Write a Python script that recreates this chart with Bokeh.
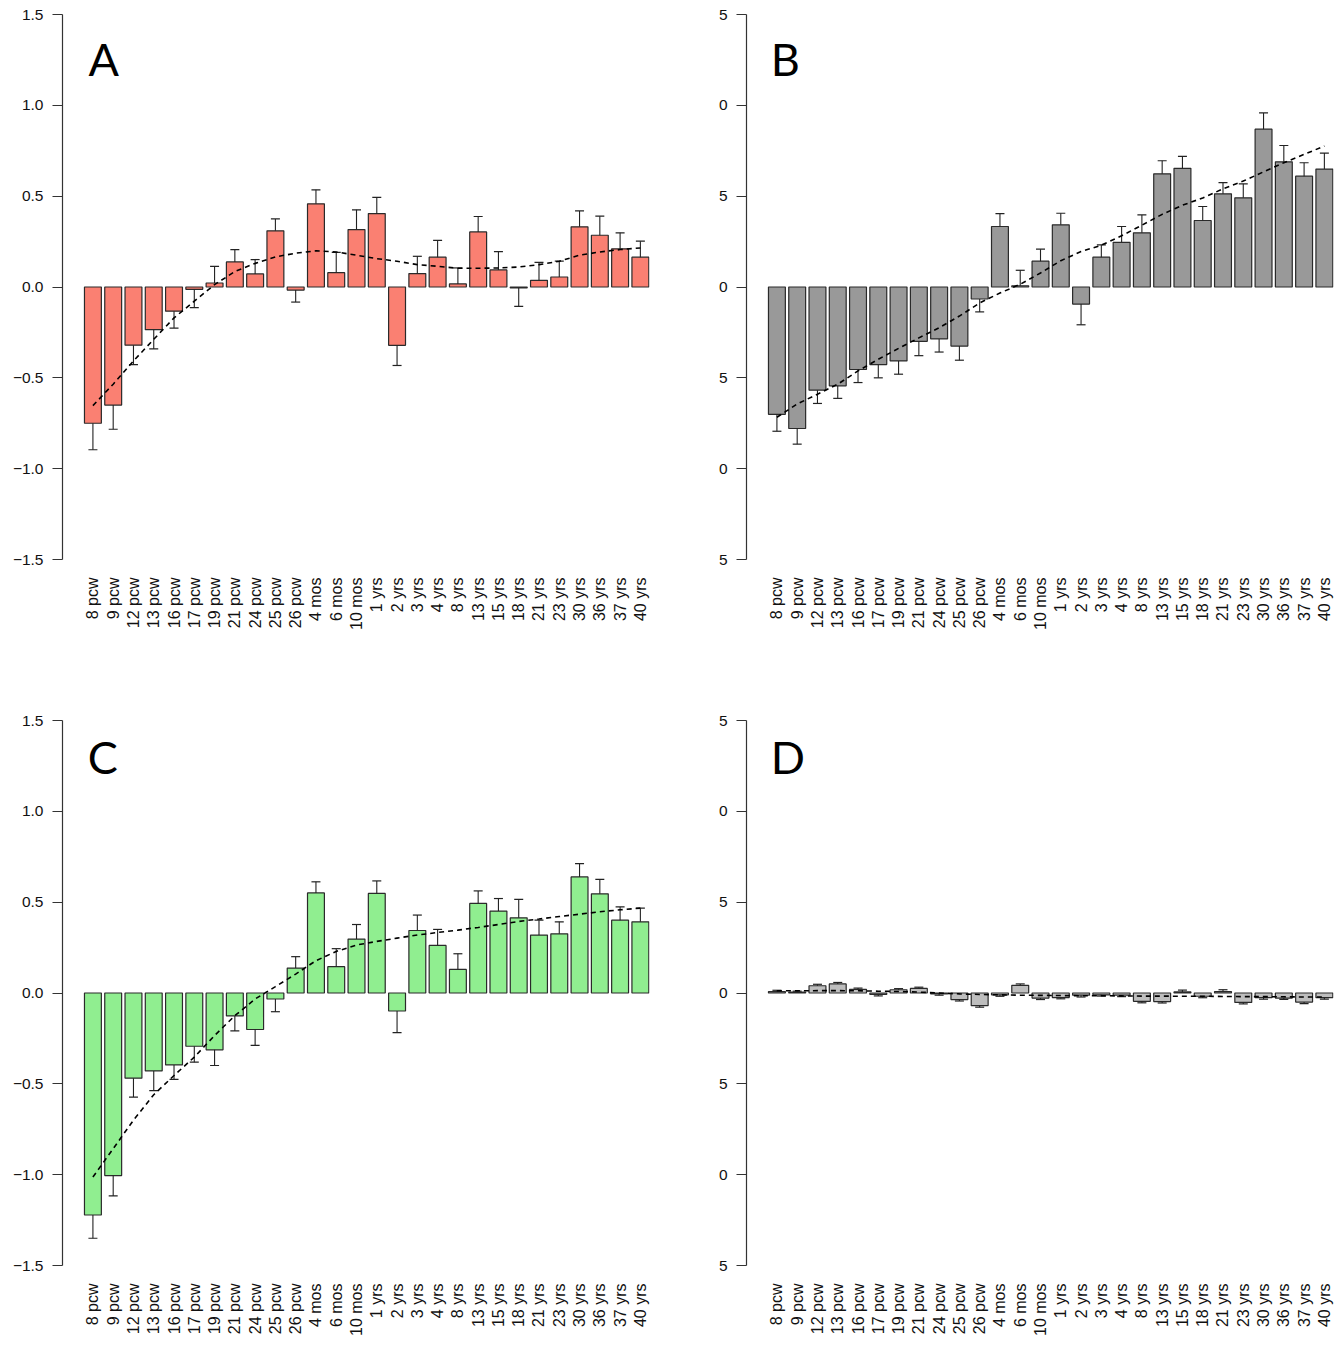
import math
from bokeh.plotting import figure
from bokeh.models import Range1d, FixedTicker, Label
from bokeh.layouts import row, column
from bokeh.embed import file_html
from bokeh.resources import INLINE

categories = ["8 pcw", "9 pcw", "12 pcw", "13 pcw", "16 pcw", "17 pcw", "19 pcw",
              "21 pcw", "24 pcw", "25 pcw", "26 pcw", "4 mos", "6 mos", "10 mos",
              "1 yrs", "2 yrs", "3 yrs", "4 yrs", "8 yrs", "13 yrs", "15 yrs",
              "18 yrs", "21 yrs", "23 yrs", "30 yrs", "36 yrs", "37 yrs", "40 yrs"]

a_values = [-0.75, -0.65, -0.32, -0.235, -0.133, -0.013, 0.022, 0.138, 0.072, 0.309,
            -0.017, 0.458, 0.079, 0.316, 0.404, -0.321, 0.074, 0.164, 0.017, 0.303,
            0.094, -0.005, 0.037, 0.055, 0.331, 0.285, 0.21, 0.164]
a_err = [-0.896, -0.783, -0.427, -0.341, -0.226, -0.113, 0.114, 0.206, 0.151, 0.375,
         -0.083, 0.535, 0.191, 0.425, 0.493, -0.432, 0.169, 0.257, 0.105, 0.388,
         0.195, -0.107, 0.136, 0.142, 0.419, 0.39, 0.298, 0.252]
a_trend = [-0.653, -0.535, -0.407, -0.288, -0.17, -0.078, 0.013, 0.085, 0.13, 0.166,
           0.186, 0.199, 0.193, 0.175, 0.156, 0.142, 0.123, 0.114, 0.103, 0.103,
           0.105, 0.11, 0.123, 0.142, 0.175, 0.193, 0.206, 0.215]

b_values = [-7.01, -7.79, -5.68, -5.44, -4.54, -4.27, -4.07, -2.99, -2.86, -3.25,
            -0.66, 3.33, 0.07, 1.42, 3.42, -0.94, 1.64, 2.46, 2.98, 6.23,
            6.53, 3.66, 5.13, 4.91, 8.69, 6.89, 6.10, 6.49]
b_err = [-7.94, -8.65, -6.41, -6.13, -5.26, -5.0, -4.8, -3.78, -3.58, -4.03,
         -1.37, 4.04, 0.92, 2.08, 4.06, -2.08, 2.32, 3.33, 3.97, 6.95,
         7.19, 4.43, 5.74, 5.68, 9.58, 7.79, 6.84, 7.37]
b_trend = [-7.17, -6.44, -5.9, -5.35, -4.62, -3.98, -3.38, -2.8, -2.24, -1.6,
           -0.88, -0.33, 0.15, 0.77, 1.45, 1.95, 2.3, 2.82, 3.4, 4.0,
           4.5, 4.9, 5.4, 5.83, 6.34, 6.84, 7.3, 7.76]

c_values = [-1.222, -1.005, -0.469, -0.429, -0.396, -0.293, -0.313, -0.126, -0.201, -0.033,
            0.137, 0.551, 0.145, 0.297, 0.548, -0.099, 0.344, 0.262, 0.13, 0.493,
            0.451, 0.414, 0.319, 0.326, 0.639, 0.546, 0.401, 0.392]
c_err = [-1.35, -1.117, -0.573, -0.537, -0.476, -0.381, -0.399, -0.209, -0.288, -0.103,
         0.2, 0.612, 0.244, 0.377, 0.617, -0.218, 0.429, 0.35, 0.216, 0.562,
         0.52, 0.515, 0.401, 0.392, 0.712, 0.625, 0.474, 0.467]
c_trend = [-1.013, -0.857, -0.70, -0.56, -0.454, -0.353, -0.234, -0.125, -0.033, 0.035,
           0.104, 0.178, 0.229, 0.264, 0.284, 0.302, 0.319, 0.333, 0.346, 0.361,
           0.377, 0.394, 0.407, 0.421, 0.434, 0.447, 0.458, 0.467]

d_values = [0.08, 0.05, 0.4, 0.5, 0.2, -0.08, 0.18, 0.25, -0.05, -0.36,
            -0.7, -0.1, 0.42, -0.28, -0.25, -0.12, -0.1, -0.12, -0.46, -0.47,
            0.06, -0.18, 0.08, -0.52, -0.26, -0.28, -0.5, -0.26]
d_err = [0.15, 0.1, 0.48, 0.58, 0.27, -0.16, 0.24, 0.32, -0.12, -0.44,
         -0.78, -0.18, 0.5, -0.36, -0.32, -0.22, -0.17, -0.2, -0.54, -0.55,
         0.16, -0.26, 0.18, -0.6, -0.34, -0.35, -0.58, -0.34]
d_trend = [0.12, 0.12, 0.13, 0.13, 0.12, 0.1, 0.08, 0.05, 0.0, -0.05,
           -0.08, -0.1, -0.12, -0.13, -0.14, -0.15, -0.15, -0.16, -0.17, -0.17,
           -0.18, -0.18, -0.19, -0.2, -0.2, -0.21, -0.22, -0.22]

small_ticks = [-1.5, -1.0, -0.5, 0.0, 0.5, 1.0, 1.5]
small_tick_labels = ["\u22121.5", "\u22121.0", "\u22120.5", "0.0", "0.5", "1.0", "1.5"]
large_ticks = [-15, -10, -5, 0, 5, 10, 15]
large_tick_labels = ["5", "0", "5", "0", "5", "0", "5"]

panel_letters = ["A", "B", "C", "D"]
colors = ["#FA8072", "#999999", "#90EE90", "#BEBEBE"]

FONT = "Liberation Sans"


def make_panel(values, errs, trend, color, ticks, tick_labels, letter, letter_xy,
               width, height, left, right, top, bottom):
    lim = max(abs(t) for t in ticks)
    p = figure(width=width, height=height,
               x_range=Range1d(-1.5, 27.45), y_range=Range1d(-lim, lim),
               output_backend="svg", toolbar_location=None,
               min_border_left=left, min_border_right=right,
               min_border_top=top, min_border_bottom=bottom)
    p.outline_line_color = None
    p.grid.visible = False
    p.background_fill_color = "white"

    idx = list(range(len(categories)))
    p.vbar(x=idx, top=values, bottom=0, width=0.833, fill_color=color,
           line_color="#2a2a2a", line_width=1.2)
    p.segment(x0=idx, y0=values, x1=idx, y1=errs, line_color="#222222", line_width=1.1)
    p.scatter(x=idx, y=errs, marker="dash", size=9, line_color="#222222", line_width=1.2)
    p.line(x=idx, y=trend, line_dash="5 4", line_color="black", line_width=1.6)

    xa = p.xaxis[0]
    xa.ticker = FixedTicker(ticks=idx)
    xa.major_label_overrides = {i: c for i, c in enumerate(categories)}
    xa.major_label_orientation = math.pi / 2
    xa.axis_line_color = None
    xa.major_tick_line_color = None
    xa.minor_tick_line_color = None
    xa.major_tick_out = 0
    xa.major_tick_in = 0
    xa.major_label_standoff = 18
    xa.major_label_text_font = FONT
    xa.major_label_text_font_size = "16px"
    xa.major_label_text_color = "#111111"

    ya = p.yaxis[0]
    ya.ticker = FixedTicker(ticks=ticks)
    ya.major_label_overrides = {t: s for t, s in zip(ticks, tick_labels)}
    ya.axis_line_color = "#333333"
    ya.axis_line_width = 1.2
    ya.major_tick_line_color = "#333333"
    ya.major_tick_line_width = 1.2
    ya.major_tick_out = 10
    ya.major_tick_in = 0
    ya.minor_tick_line_color = None
    ya.major_label_standoff = 9
    ya.major_label_text_font = FONT
    ya.major_label_text_font_size = "15.5px"
    ya.major_label_text_color = "#111111"

    p.add_layout(Label(x=letter_xy[0], y=letter_xy[1], text=letter,
                       text_font="Lato", text_font_size="45px",
                       text_baseline="alphabetic", text_color="black"))
    return p


pA = make_panel(a_values, a_err, a_trend, colors[0], small_ticks, small_tick_labels,
                panel_letters[0], (-0.22, 1.257), 670, 700, 62, 21, 14, 141)
pB = make_panel(b_values, b_err, b_trend, colors[1], large_ticks, large_tick_labels,
                panel_letters[1], (-0.3, 12.57), 671, 700, 76, 8, 14, 141)
pC = make_panel(c_values, c_err, c_trend, colors[2], small_ticks, small_tick_labels,
                panel_letters[2], (-0.25, 1.298), 670, 650, 62, 21, 20, 85)
pD = make_panel(d_values, d_err, d_trend, colors[3], large_ticks, large_tick_labels,
                panel_letters[3], (-0.3, 12.99), 671, 650, 76, 8, 20, 85)

layout = column(row(pA, pB), row(pC, pD))

with open("out.html", "w") as f:
    f.write(file_html(layout, INLINE))
